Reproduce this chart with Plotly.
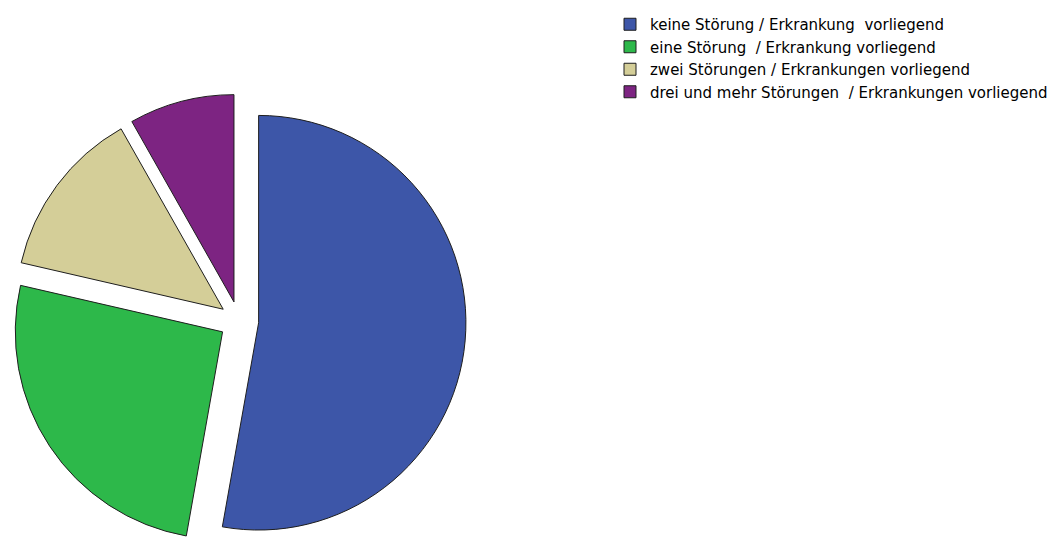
import plotly.graph_objects as go

labels = [
    "keine Störung / Erkrankung\u00a0 vorliegend",
    "eine Störung\u00a0 / Erkrankung vorliegend",
    "zwei Störungen / Erkrankungen vorliegend",
    "drei und mehr Störungen\u00a0 / Erkrankungen vorliegend",
]
values = [52.8, 25.8, 13.2, 8.2]
colors = ["#3D56A8", "#2DB84A", "#D4CE98", "#7D2482"]

W, H = 1061, 540
cx, cy, half = 231, 313, 227
fig = go.Figure(go.Pie(
    labels=labels, values=values, sort=False, direction="clockwise", rotation=0,
    pull=[0.095] * 4,
    marker=dict(colors=colors, line=dict(color="#1e1e1e", width=1)),
    textinfo="none", hoverinfo="label+percent",
    domain=dict(x=[(cx - half) / W, (cx + half) / W], y=[(H - cy - half) / H, (H - cy + half) / H]),
))
fig.update_layout(
    width=W, height=H, margin=dict(l=0, r=0, t=0, b=0),
    paper_bgcolor="white", plot_bgcolor="white",
    showlegend=True,
    legend=dict(x=602 / W, y=1, xanchor="left", yanchor="top",
                font=dict(family="DejaVu Sans, Arial, sans-serif", size=15, color="#000"),
                itemwidth=30, tracegroupgap=0, bgcolor="rgba(0,0,0,0)"),
)
fig.write_html("out.html")
